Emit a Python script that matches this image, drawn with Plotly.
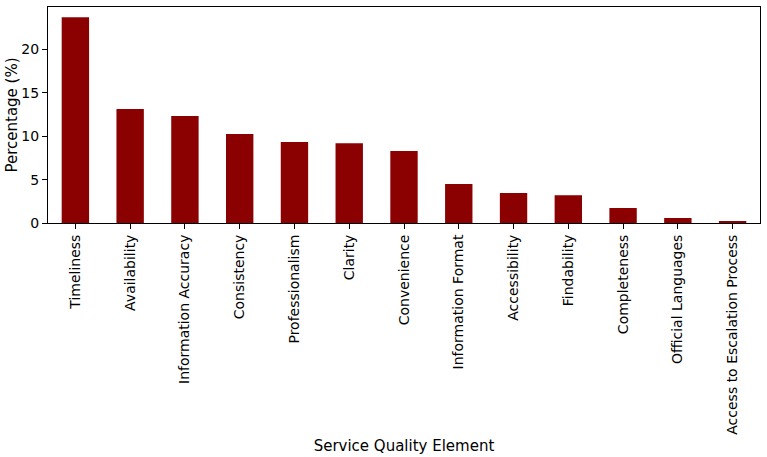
import plotly.graph_objects as go

categories = ["Timeliness", "Availability", "Information Accuracy", "Consistency",
              "Professionalism", "Clarity", "Convenience", "Information Format",
              "Accessibility", "Findability", "Completeness", "Official Languages",
              "Access to Escalation Process"]
values = [23.73, 13.13, 12.33, 10.25, 9.33, 9.2, 8.3, 4.5, 3.46, 3.2, 1.73, 0.58, 0.23]
y_ticks = [0, 5, 10, 15, 20]

fig = go.Figure(go.Bar(x=categories, y=values, marker_color="#8b0000",
                       marker_line_width=0, width=0.5))

font = dict(family="DejaVu Sans", size=14, color="black")
fig.update_layout(
    width=767, height=457,
    margin=dict(l=48, r=7, t=7, b=234),
    plot_bgcolor="white", paper_bgcolor="white",
    font=font, showlegend=False, bargap=0.5,
)
fig.update_xaxes(
    range=[-0.5, 12.5], tickangle=-90, showline=True, linecolor="black", linewidth=1,
    mirror=True, ticks="outside", ticklen=5, tickcolor="black", showgrid=False,
    title=dict(text="Service Quality Element", font=dict(size=15), standoff=6),
    tickfont=dict(size=14), automargin=False,
)
fig.update_yaxes(
    range=[0, 24.9], tickvals=y_ticks, showline=True, linecolor="black", linewidth=1,
    mirror=True, ticks="outside", ticklen=5, tickcolor="black", showgrid=False,
    zeroline=False, title=dict(text="Percentage (%)", font=dict(size=15), standoff=0),
    tickfont=dict(size=14), automargin=False,
)
fig.write_html("out.html")
